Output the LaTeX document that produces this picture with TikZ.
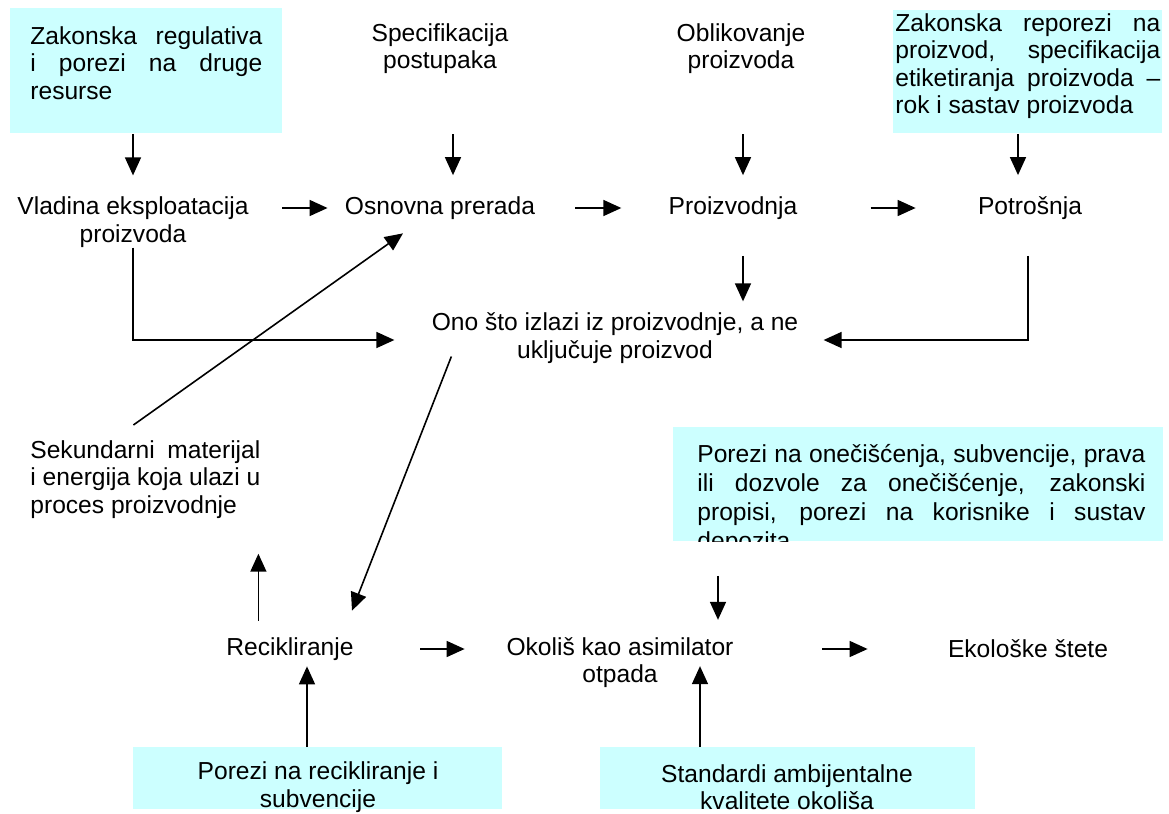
\documentclass[tikz,border=0pt]{standalone}
\usepackage{fontspec}
\setmainfont{Liberation Sans}
\usetikzlibrary{arrows.meta, positioning}
\definecolor{boxcyan}{RGB}{204,255,255}
\newcommand{\mainfs}{\fontsize{12.3}{13.75}\selectfont}
\newcommand{\jline}[2]{\makebox[#1][s]{#2}}
\begin{document}
\begin{tikzpicture}[x=0.5pt, y=-0.5pt,
                cbox/.style={fill=boxcyan, inner sep=0pt, anchor=north west},
                lbl/.style={font=\mainfs, align=center, inner sep=0pt},
                boxtxt/.style={font=\mainfs, align=left, inner sep=0pt, anchor=north west},
                arr/.style={-{Triangle[length=9pt,width=8pt]}, line width=0.8pt}]
                \useasboundingbox (0,0) rectangle (1169,814);
                % cyan boxes
                \node[cbox, minimum width=136pt, minimum height=62.5pt] (zakbox) at (10,8) {};
                \node[cbox, minimum width=134.5pt, minimum height=61.5pt] (potbox) at (893,10) {};
                \node[cbox, minimum width=245pt, minimum height=57pt] (onebox) at (673,427) {};
                \node[cbox, minimum width=184.5pt, minimum height=31pt] (recbox) at (133,747) {};
                \node[cbox, minimum width=187.5pt, minimum height=31pt] (stdbox) at (600,747) {};
                % box texts
                \node[boxtxt] (zaktext) at (30,26) {\jline{116pt}{Zakonska regulativa}\\
                    \jline{116pt}{i porezi na druge}\\ resurse};
                \node[boxtxt] (pottext) at (895,13) {\jline{132.5pt}{Zakonska reporezi na}\\
                    \jline{132.5pt}{proizvod, specifikacija}\\
                    \jline{132.5pt}{etiketiranja proizvoda --}\\ rok i sastav proizvoda};
                \begin{scope}
                    \clip (onebox.north west) rectangle (onebox.south east);
                    \node[boxtxt, font=\fontsize{12.3}{14.5}\selectfont] (onetext) at (697,444)
                        {\jline{224pt}{Porezi na onečišćenja, subvencije, prava}\\
                        \jline{224pt}{ili dozvole za onečišćenje, zakonski}\\
                        \jline{224pt}{propisi, porezi na korisnike i sustav}\\ depozita};
                \end{scope}
                \node[lbl] (rectext) at (318,787) {Porezi na recikliranje i\\ subvencije};
                \node[lbl] (stdtext) at (787,787) {Standardi ambijentalne\\ kvalitete okoliša};
                % process labels
                \node[lbl] (spec) at (440,48.5) {Specifikacija\\ postupaka};
                \node[lbl] (oblik) at (741,48.5) {Oblikovanje\\ proizvoda};
                \node[lbl] (vladina) at (133,222) {Vladina eksploatacija\\ proizvoda};
                \node[lbl] (osnovna) at (440,208) {Osnovna prerada};
                \node[lbl] (proizv) at (733,208) {Proizvodnja};
                \node[lbl] (potros) at (1030,208) {Potrošnja};
                \node[lbl] (ono) at (615,338) {Ono što izlazi iz proizvodnje, a ne\\ uključuje proizvod};
                \node[boxtxt] (sekund) at (30,440) {\jline{115pt}{Sekundarni materijal}\\
                    \jline{115pt}{i energija koja ulazi u}\\ proces proizvodnje};
                \node[lbl] (recikl) at (290,649) {Recikliranje};
                \node[lbl] (okolis) at (620,662.5) {Okoliš kao asimilator\\ otpada};
                \node[lbl] (ekol) at (1028,649) {Ekološke štete};
                % arrow ends
                \coordinate (vladin) at ([yshift=10.5pt]vladina.north);
                \coordinate (osnin) at ([xshift=6.5pt,yshift=10.5pt]osnovna.north);
                \coordinate (proin) at ([xshift=5pt,yshift=10.5pt]proizv.north);
                \coordinate (potin) at ([xshift=-6pt,yshift=10.5pt]potros.north);
                \coordinate (okoin) at ([xshift=49pt,yshift=8.5pt]okolis.north);
                \coordinate (recin) at ([xshift=8.5pt,yshift=-2.75pt]recikl.south);
                \coordinate (stdin) at ([xshift=40pt,yshift=11pt]okolis.south);
                \coordinate (sekin) at ([xshift=56.5pt,yshift=-17.5pt]sekund.south);
                % connectors
                \draw[arr] (zakbox.south -| vladin) -- (vladin);
                \draw[arr] ([yshift=-30pt]spec.south -| osnin) -- (osnin);
                \draw[arr] ([yshift=-30pt]oblik.south -| proin) -- (proin);
                \draw[arr] (potbox.south -| potin) -- (potin);
                \draw[arr] ([xshift=16.75pt,yshift=7pt]vladina.east) -- ([xshift=-8.5pt]osnovna.west);
                \draw[arr] ([xshift=20pt]osnovna.east) -- ([xshift=-23.5pt]proizv.west);
                \draw[arr] ([xshift=36.5pt]proizv.east) -- ([xshift=-31pt]potros.west);
                \draw[arr] (vladina.south) |- ([xshift=-18.5pt,yshift=-1pt]ono.west);
                \draw[arr] ([xshift=5pt,yshift=-18pt]proizv.south) -- ([xshift=64pt,yshift=5.5pt]ono.north);
                \draw[arr] ([xshift=-1pt,yshift=-18pt]potros.south) |- ([xshift=12.5pt,yshift=-1pt]ono.east);
                \draw[arr] ([xshift=-6pt,yshift=7.5pt]sekund.north) -- ([xshift=-18.5pt,yshift=-6.75pt]osnovna.south);
                \draw[arr] ([xshift=10pt,yshift=-9.25pt]ono.west) -- ([xshift=31pt,yshift=13.25pt]recikl.north);
                \draw[arr] ([yshift=8.25pt]recikl.north -| sekin) -- (sekin);
                \draw[arr] ([xshift=33.25pt]recikl.east) -- ([xshift=-20.75pt,yshift=6.75pt]okolis.west);
                \draw[arr] ([xshift=44.25pt,yshift=6.75pt]okolis.east) -- ([xshift=-40pt]ekol.west);
                \draw[arr] ([yshift=-17pt]onebox.south -| okoin) -- (okoin);
                \draw[arr] (recbox.north -| recin) -- (recin);
                \draw[arr] (stdbox.north -| stdin) -- (stdin);
            \end{tikzpicture}
\end{document}
